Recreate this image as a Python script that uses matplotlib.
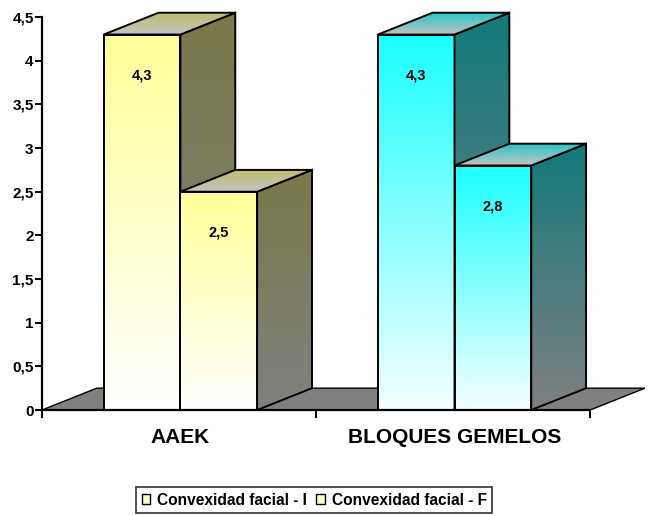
import numpy as np
import matplotlib
matplotlib.use("Agg")
import matplotlib.pyplot as plt
from matplotlib.patches import Polygon, Patch
from matplotlib.colors import to_rgb

plt.rcParams['font.family'] = ['Liberation Sans', 'DejaVu Sans']
plt.rcParams['font.weight'] = 'bold'

# Data
categories = ["AAEK", "BLOQUES GEMELOS"]
series_names = ["Convexidad facial - I", "Convexidad facial - F"]
values_I = [4.3, 4.3]
values_F = [2.5, 2.8]
y_ticks = [0, 0.5, 1, 1.5, 2, 2.5, 3, 3.5, 4, 4.5]
y_tick_labels = ["0", "0,5", "1", "1,5", "2", "2,5", "3", "3,5", "4", "4,5"]

# Per-category colour sets: front (top, bottom), side (top, bottom), roof (back, front)
palettes = [
    dict(front=("#FFFF99", "#FFFFFF"), side=("#7A7A4A", "#808080"),
         roof=("#BDBD70", "#C4C4C4")),
    dict(front=("#1AFFFF", "#F5FFFF"), side=("#127A7A", "#808080"),
         roof=("#2EC4C4", "#C4C4C4")),
]

BAR_W = 0.28
DX, DY = 0.20, 0.25   # oblique depth offset in data units

fig = plt.figure(figsize=(6.48, 5.16), dpi=100)
ax = fig.add_axes([42 / 648, 106 / 516, 603 / 648, 406 / 516])
ax.set_xlim(0, 2.2)
ax.set_ylim(0, 4.65)

zc = [3.0]


def grad_face(verts, c_top, c_bot, y_top, y_bot):
    z = zc[0]
    zc[0] += 0.2
    clip = Polygon(verts, closed=True, facecolor='none', edgecolor='none',
                   transform=ax.transData)
    ax.add_patch(clip)
    xs = [v[0] for v in verts]
    t = np.linspace(0, 1, 256)[:, None, None]
    img = (1 - t) * np.array(to_rgb(c_top)) + t * np.array(to_rgb(c_bot))
    img = np.repeat(img, 2, axis=1)
    im = ax.imshow(img, extent=[min(xs), max(xs), y_bot, y_top], origin='upper',
                   aspect='auto', interpolation='bilinear', zorder=z)
    im.set_clip_path(clip)
    ax.add_patch(Polygon(verts, closed=True, fill=False, edgecolor='black',
                         lw=1.4, joinstyle='miter', zorder=z + 0.1))


# Floor
floor = Polygon([(0, 0), (2, 0), (2 + DX, DY), (DX, DY)], closed=True,
                facecolor='#808080', edgecolor='black', lw=1.0, zorder=2)
ax.add_patch(floor)

# Bars
for i, cat in enumerate(categories):
    c = i + 0.505
    pal = palettes[i]
    for x0, h in ((c - BAR_W, values_I[i]), (c, values_F[i])):
        x1 = x0 + BAR_W
        grad_face([(x0, 0), (x1, 0), (x1, h), (x0, h)], pal['front'][0], pal['front'][1], h, 0)
        grad_face([(x1, 0), (x1 + DX, DY), (x1 + DX, h + DY), (x1, h)],
                  pal['side'][0], pal['side'][1], h + DY, 0)
        grad_face([(x0, h), (x1, h), (x1 + DX, h + DY), (x0 + DX, h + DY)],
                  pal['roof'][0], pal['roof'][1], h + DY, h)
        ax.text(x0 + BAR_W / 2, h - 0.47, f"{h:.1f}".replace(".", ","),
                ha='center', va='center', fontsize=10.5, fontweight='bold', zorder=50)

# Axes styling
for s in ('top', 'right'):
    ax.spines[s].set_visible(False)
ax.spines['left'].set_bounds(0, 4.5)
ax.spines['bottom'].set_bounds(0, 2)
ax.spines['left'].set_linewidth(1.6)
ax.spines['bottom'].set_linewidth(1.6)
ax.spines['left'].set_zorder(60)
ax.spines['bottom'].set_zorder(60)
ax.set_yticks(y_ticks)
ax.set_yticklabels(y_tick_labels, fontsize=11, fontweight='bold')
ax.tick_params(axis='y', direction='out', length=5, width=1.4, pad=1)
ax.set_xticks([0, 1, 2])
ax.set_xticklabels([])
ax.tick_params(axis='x', which='major', direction='out', length=6, width=1.4)
ax.set_xticks([0.505, 1.505], minor=True)
ax.set_xticklabels(categories, minor=True, fontsize=15, fontweight='bold')
ax.tick_params(axis='x', which='minor', length=0, pad=13)
ax.patch.set_visible(False)

handles = [Patch(facecolor='#FFFFC8', edgecolor='black', lw=1.0) for _ in series_names]
leg = fig.legend(handles, series_names, loc='center', bbox_to_anchor=(0.485, 0.031),
                 ncol=2, frameon=True, fancybox=False, edgecolor='black',
                 prop=dict(weight='bold', size=11.2), handlelength=0.55, handleheight=0.55,
                 handletextpad=0.45, columnspacing=0.6, borderpad=0.35, borderaxespad=0)
leg.get_frame().set_linewidth(1.2)

fig.savefig("out.png", dpi=100)
